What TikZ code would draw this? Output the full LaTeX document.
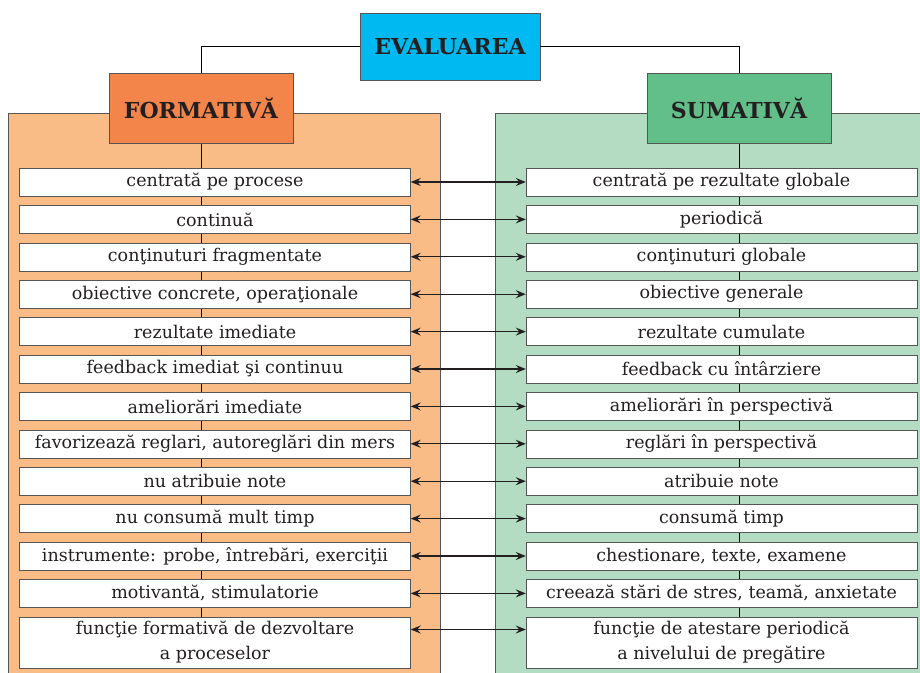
\documentclass[tikz,border=0pt]{standalone}
\usepackage{fontspec}
\setmainfont{DejaVu Serif}
\usetikzlibrary{arrows.meta}
\definecolor{evalcyan}{RGB}{0,185,240}
\definecolor{formorange}{RGB}{244,133,74}
\definecolor{formpanel}{RGB}{249,188,134}
\definecolor{sumgreen}{RGB}{99,191,138}
\definecolor{sumpanel}{RGB}{180,220,194}
\definecolor{edgegray}{RGB}{85,85,85}
\definecolor{inkgray}{RGB}{35,31,32}
\pgfdeclarelayer{panel}
\pgfdeclarelayer{link}
\pgfsetlayers{panel,link,main}
\tikzset{
    trait/.style = {draw = edgegray, fill = white, minimum width = 391pt,
        minimum height = 28pt, inner sep = 0pt, align = center, text = inkgray,
        font = \fontsize{17.5}{25}\selectfont},
    headbox/.style = {draw = edgegray, minimum width = 184pt, text = inkgray,
        minimum height = 70pt, font = \fontsize{22}{26}\selectfont\bfseries}
}
\begin{document}
\begin{tikzpicture}[
        x = 1pt,
        y = -1pt,
        line width = 1pt,
        > = {Stealth[length=10pt, width=8pt, inset=3.5pt]}
    ]
        \useasboundingbox (0,0) rectangle (920,672);
        % panels
        \begin{pgfonlayer}{panel}
            \begin{scope}
                \clip (0,0) rectangle (920,672);
                \filldraw[fill = formpanel, draw = edgegray] (8,113) rectangle (440,690);
                \filldraw[fill = sumpanel, draw = edgegray] (495,113) rectangle (940,690);
            \end{scope}
        \end{pgfonlayer}
        % headers
        \node[headbox, fill = evalcyan, minimum width = 180pt, minimum height = 67pt] (eval) at (450,46.5) {EVALUAREA};
        \node[headbox, fill = formorange] (form) at (201,108) {FORMATIVĂ};
        \node[headbox, fill = sumgreen] (sum) at (739,108) {SUMATIVĂ};
        \draw (eval.west) -| (form.north);
        \draw (eval.east) -| (sum.north);
        % formativa
        \node[trait] (l1) at (215,182) {centrată pe procese};
        \node[trait] (l2) at (215,219.4) {continuă};
        \node[trait] (l3) at (215,256.8) {conţinuturi fragmentate};
        \node[trait] (l4) at (215,294.2) {obiective concrete, operaţionale};
        \node[trait] (l5) at (215,331.6) {rezultate imediate};
        \node[trait] (l6) at (215,369) {feedback imediat şi continuu};
        \node[trait] (l7) at (215,406.4) {ameliorări imediate};
        \node[trait] (l8) at (215,443.8) {favorizează reglari, autoreglări din mers};
        \node[trait] (l9) at (215,481.2) {nu atribuie note};
        \node[trait] (l10) at (215,518.6) {nu consumă mult timp};
        \node[trait] (l11) at (215,556) {instrumente: probe, întrebări, exerciţii};
        \node[trait] (l12) at (215,593.4) {motivantă, stimulatorie};
        \node[trait, minimum height = 51pt] (l13) at (215,642.5) {funcţie formativă de dezvoltare\\a proceselor};
        % sumativa
        \node[trait] (r1) at (721.5,182) {centrată pe rezultate globale};
        \node[trait] (r2) at (721.5,219.4) {periodică};
        \node[trait] (r3) at (721.5,256.8) {conţinuturi globale};
        \node[trait] (r4) at (721.5,294.2) {obiective generale};
        \node[trait] (r5) at (721.5,331.6) {rezultate cumulate};
        \node[trait] (r6) at (721.5,369) {feedback cu întârziere};
        \node[trait] (r7) at (721.5,406.4) {ameliorări în perspectivă};
        \node[trait] (r8) at (721.5,443.8) {reglări în perspectivă};
        \node[trait] (r9) at (721.5,481.2) {atribuie note};
        \node[trait] (r10) at (721.5,518.6) {consumă timp};
        \node[trait] (r11) at (721.5,556) {chestionare, texte, examene};
        \node[trait] (r12) at (721.5,593.4) {creează stări de stres, teamă, anxietate};
        \node[trait, minimum height = 51pt] (r13) at (721.5,642.5) {funcţie de atestare periodică\\a nivelului de pregătire};
        % spines
        \begin{pgfonlayer}{link}
            \draw (form.south) -- (form.south |- l13.north);
            \draw (sum.south) -- (sum.south |- r13.north);
        \end{pgfonlayer}
        % pairs
        \begin{scope}[line width = 1.3pt, draw = inkgray]
            \draw[<->] (l1) -- (r1);
            \draw[<->] (l2) -- (r2);
            \draw[<->] (l3) -- (r3);
            \draw[<->] (l4) -- (r4);
            \draw[<->] (l5) -- (r5);
            \draw[<->] (l6) -- (r6);
            \draw[<->] (l7) -- (r7);
            \draw[<->] (l8) -- (r8);
            \draw[<->] (l9) -- (r9);
            \draw[<->] (l10) -- (r10);
            \draw[<->] (l11) -- (r11);
            \draw[<->] (l12) -- (r12);
            \draw[<->] ([yshift=13pt]l13.east) -- ([yshift=13pt]r13.west);
        \end{scope}
    \end{tikzpicture}
\end{document}
